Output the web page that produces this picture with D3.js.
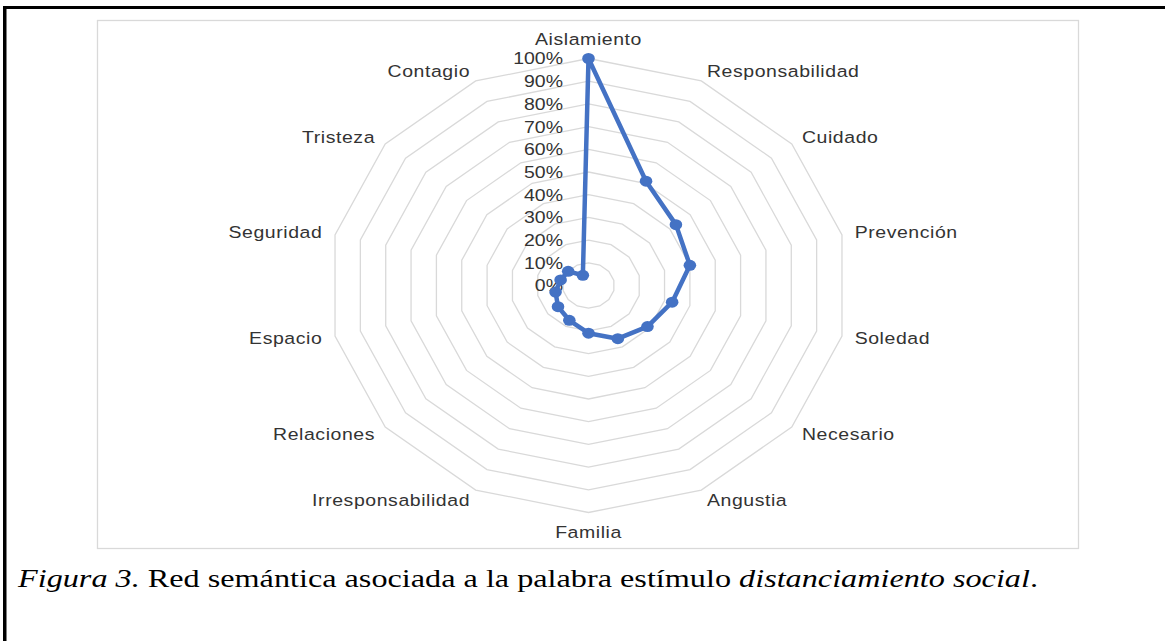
<!DOCTYPE html>
<html>
<head>
<meta charset="utf-8">
<script src="https://cdn.jsdelivr.net/npm/d3@7"></script>
<style>
	body { margin: 0; background: #fff; }
	svg { display: block; }
</style>
</head>
<body>
<svg id="chart" width="1165" height="641"></svg>
<script>
// categories, clockwise from the top
var categories = ["Aislamiento", "Responsabilidad", "Cuidado", "Prevención", "Soledad",
	"Necesario", "Angustia", "Familia", "Irresponsabilidad", "Relaciones",
	"Espacio", "Seguridad", "Tristeza", "Contagio"];
// share of mentions (0..1)
var values = [1.00, 0.51, 0.43, 0.40, 0.33, 0.29, 0.26, 0.21, 0.17, 0.15, 0.13, 0.11, 0.10, 0.05];
var tickValues = [0, 0.1, 0.2, 0.3, 0.4, 0.5, 0.6, 0.7, 0.8, 0.9, 1.0];

var svg = d3.select("#chart");
var W = 1165, H = 641;

var cx = 588.5, cy = 285.5,
	radX = 260, radY = 227,	// the picture is stretched horizontally
	stretch = radX / radY;

var rx = d3.scaleLinear().domain([0, 1]).range([0, radX]),
	ry = d3.scaleLinear().domain([0, 1]).range([0, radY]),
	angle = d3.scaleLinear().domain([0, categories.length]).range([0, 2 * Math.PI]);

function px(i, v) { return cx + rx(v) * Math.sin(angle(i)); }
function py(i, v) { return cy - ry(v) * Math.cos(angle(i)); }

// page frame
svg.append("line").attr("x1", 4.75).attr("y1", 6).attr("x2", 4.75).attr("y2", H)
	.attr("stroke", "#000").attr("stroke-width", 3.5);
svg.append("line").attr("x1", 3).attr("y1", 7.5).attr("x2", W).attr("y2", 7.5)
	.attr("stroke", "#000").attr("stroke-width", 3);

// chart area
svg.append("rect").attr("x", 97.5).attr("y", 20.5).attr("width", 981).attr("height", 528)
	.attr("fill", "#fff").attr("stroke", "#d9d9d9").attr("stroke-width", 1.3);

var g = svg.append("g");

// rings
var ring = d3.line();
g.selectAll(".ring")
	.data(tickValues.filter(function(v) { return v > 0; }))
	.enter().append("path")
		.attr("class", "ring")
		.attr("d", function(v) {
			return ring(categories.map(function(c, i) { return [px(i, v), py(i, v)]; })) + "Z";
		})
		.attr("fill", "none")
		.attr("stroke", "#d9d9d9")
		.attr("stroke-width", 1.3);

function stretchedText(sel) {
	return sel.attr("transform", function(d) {
		return "translate(" + d.x + "," + d.y + ") scale(" + stretch + ",1)";
	});
}

// value axis labels
g.selectAll(".tick")
	.data(tickValues.map(function(v) { return {v: v, x: 563, y: cy - ry(v)}; }))
	.enter().append("text")
		.attr("class", "tick")
		.call(stretchedText)
		.attr("text-anchor", "end")
		.attr("dy", "0.35em")
		.attr("font-family", "Liberation Sans, Arial, sans-serif")
		.attr("font-size", 17)
		.attr("fill", "#333")
		.text(function(d) { return d3.format(".0%")(d.v); });

// series
var series = categories.map(function(c, i) { return [px(i, values[i]), py(i, values[i])]; });
g.append("path")
	.attr("d", d3.line()(series) + "Z")
	.attr("fill", "none")
	.attr("stroke", "#4472c4")
	.attr("stroke-width", 4.5)
	.attr("stroke-linejoin", "round");
g.selectAll(".dot")
	.data(series)
	.enter().append("ellipse")
		.attr("class", "dot")
		.attr("cx", function(d) { return d[0]; })
		.attr("cy", function(d) { return d[1]; })
		.attr("rx", 5.5 * stretch)
		.attr("ry", 5.5)
		.attr("fill", "#4472c4");

// category labels
var labelPos = categories.map(function(c, i) {
	var a = angle(i), s = Math.sin(a), co = Math.cos(a), p = {name: c};
	p.x = px(i, 1.05);
	p.y = py(i, 1.05);
	if (Math.abs(s) < 0.01) {
		p.anchor = "middle";
		p.y -= co * 8;
	} else {
		p.anchor = s > 0 ? "start" : "end";
	}
	return p;
});
g.selectAll(".cat")
	.data(labelPos)
	.enter().append("text")
		.attr("class", "cat")
		.call(stretchedText)
		.attr("text-anchor", function(d) { return d.anchor; })
		.attr("dy", "0.35em")
		.attr("font-family", "Liberation Sans, Arial, sans-serif")
		.attr("font-size", 17)
		.attr("letter-spacing", 0.5)
		.attr("fill", "#333")
		.text(function(d) { return d.name; });

// caption
var cap = svg.append("text")
	.attr("transform", "translate(18,587) scale(1.24,1)")
	.attr("font-family", "Liberation Serif, Times New Roman, serif")
	.attr("font-size", 26)
	.attr("fill", "#000");
cap.append("tspan").attr("font-style", "italic").text("Figura 3.");
cap.append("tspan").text(" Red semántica asociada a la palabra estímulo ");
cap.append("tspan").attr("font-style", "italic").text("distanciamiento social");
cap.append("tspan").text(".");
</script>
</body>
</html>
